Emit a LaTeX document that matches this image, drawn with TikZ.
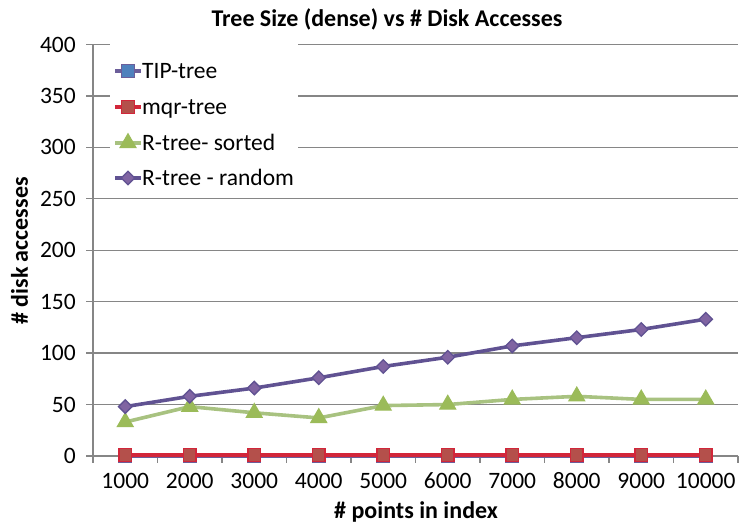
\documentclass[tikz,border=0pt]{standalone}
\usepackage{fontspec}
\setmainfont{Carlito}
\usepackage{tikz}
\usetikzlibrary{positioning,shapes.geometric}

\definecolor{gridGray}{RGB}{134,134,134}
\definecolor{tipLine}{RGB}{108,94,154}
\definecolor{tipFill}{RGB}{79,129,189}
\definecolor{mqrLine}{RGB}{210,38,58}
\definecolor{mqrFill}{RGB}{180,80,75}
\definecolor{sortLine}{RGB}{168,194,128}
\definecolor{sortFill}{RGB}{155,187,89}
\definecolor{rndLine}{RGB}{96,82,146}
\definecolor{rndFill}{RGB}{128,100,162}

\tikzset{%
  % Specifications for style of axes, labels and series
      gridLine/.style = {draw=gridGray, line width=1.3pt},
     tickLabel/.style = {inner sep=0pt, font=\fontsize{23.5}{27}\selectfont},
     axisTitle/.style = {inner sep=0pt, font=\fontsize{24}{28}\selectfont\bfseries},
    legendText/.style = {inner sep=0pt, text height=15pt, text depth=0pt,
                         font=\fontsize{23.5}{27}\selectfont},
    seriesBase/.style = {line width=3.6pt, line join=round},
     seriesTIP/.style = {seriesBase, draw=tipLine},
     seriesMQR/.style = {seriesBase, draw=mqrLine},
    seriesSort/.style = {seriesBase, draw=sortLine},
     seriesRnd/.style = {seriesBase, draw=rndLine},
      markBase/.style = {inner sep=0pt, line width=1.3pt},
       markTIP/.style = {markBase, rectangle, minimum size=12.5pt,
                         draw=tipLine, fill=tipFill},
       markMQR/.style = {markBase, rectangle, minimum size=12.5pt,
                         draw=mqrLine, fill=mqrFill},
      markSort/.style = {markBase, regular polygon, regular polygon sides=3,
                         minimum size=18pt, draw=sortFill, fill=sortFill},
       markRnd/.style = {markBase, diamond, minimum size=14pt,
                         draw=rndLine, fill=rndFill},
}

\begin{document}
\begin{tikzpicture}[x=1pt, y=1pt]
  \useasboundingbox (0,0) rectangle (739,524);

  % Titles
  \node (title)  [axisTitle, anchor=base] at (387,497)
                 {Tree Size (dense) vs \# Disk Accesses};
  \node (xTitle) [axisTitle, anchor=base] at (416,5) {\# points in index};
  \node (yTitle) [axisTitle, anchor=base, rotate=90] at (28,273)
                 {\# disk accesses};

  \begin{scope}[shift={(93,68)}, x=64.5pt, y=1.02875pt]
    % Grid, axes and tick labels
    \foreach \v in {0,50,...,400} {
      \draw[gridLine] (0,\v) ++(-7pt,0) -- (10,\v);
      \node (yTick\v) [tickLabel, anchor=east] at ([xshift=-17pt]0,\v) {\v};
    }
    \draw[gridLine] (0,0) -- (0,400);
    \foreach \i in {0,...,10}
      \draw[gridLine] (\i,0) -- ++(0,-7pt);
    \foreach \i in {1,...,10}
      \node (xTick\i) [tickLabel, anchor=base] at ([yshift=-33pt]\i-0.5,0)
                      {\i000};

    % Legend box
    \fill[white] (17pt,331-68) rectangle (205pt,469-68);

    % Data points of the four series
    \foreach \i/\t/\m/\s/\r in {1/0/1/33/48, 2/0/1/48/58, 3/0/1/42/66,
        4/0/1/37/76, 5/0/1/49/87, 6/0/1/50/96, 7/0/1/55/107,
        8/0/1/58/115, 9/0/1/55/123, 10/0/1/55/133} {
      \coordinate (tip\i)  at (\i-0.5,\t);
      \coordinate (mqr\i)  at (\i-0.5,\m);
      \coordinate (sort\i) at (\i-0.5,\s);
      \coordinate (rnd\i)  at (\i-0.5,\r);
    }
  \end{scope}

  % Series lines and markers
  \foreach \ser/\sty in {tip/TIP, mqr/MQR, sort/Sort, rnd/Rnd} {
    \draw[series\sty] (\ser1) \foreach \i in {2,...,10} { -- (\ser\i) };
    \foreach \i in {1,...,10}
      \node (\ser Mark\i) [mark\sty] at (\ser\i) {};
  }

  % Legend entries
  \foreach \ser/\sty/\y/\txt in {tip/TIP/453/TIP-tree, mqr/MQR/417/mqr-tree,
      sort/Sort/381/R-tree- sorted, rnd/Rnd/346/R-tree - random} {
    \coordinate (leg\sty) at (128,\y);
    \draw[series\sty, line width=3.2pt] (leg\sty) ++(-13,0) -- ++(26,0);
    \node (legMark\sty) [mark\sty] at (leg\sty) {};
    \node (legText\sty) [legendText, right=14pt of leg\sty] {\txt};
  }
\end{tikzpicture}
\end{document}
